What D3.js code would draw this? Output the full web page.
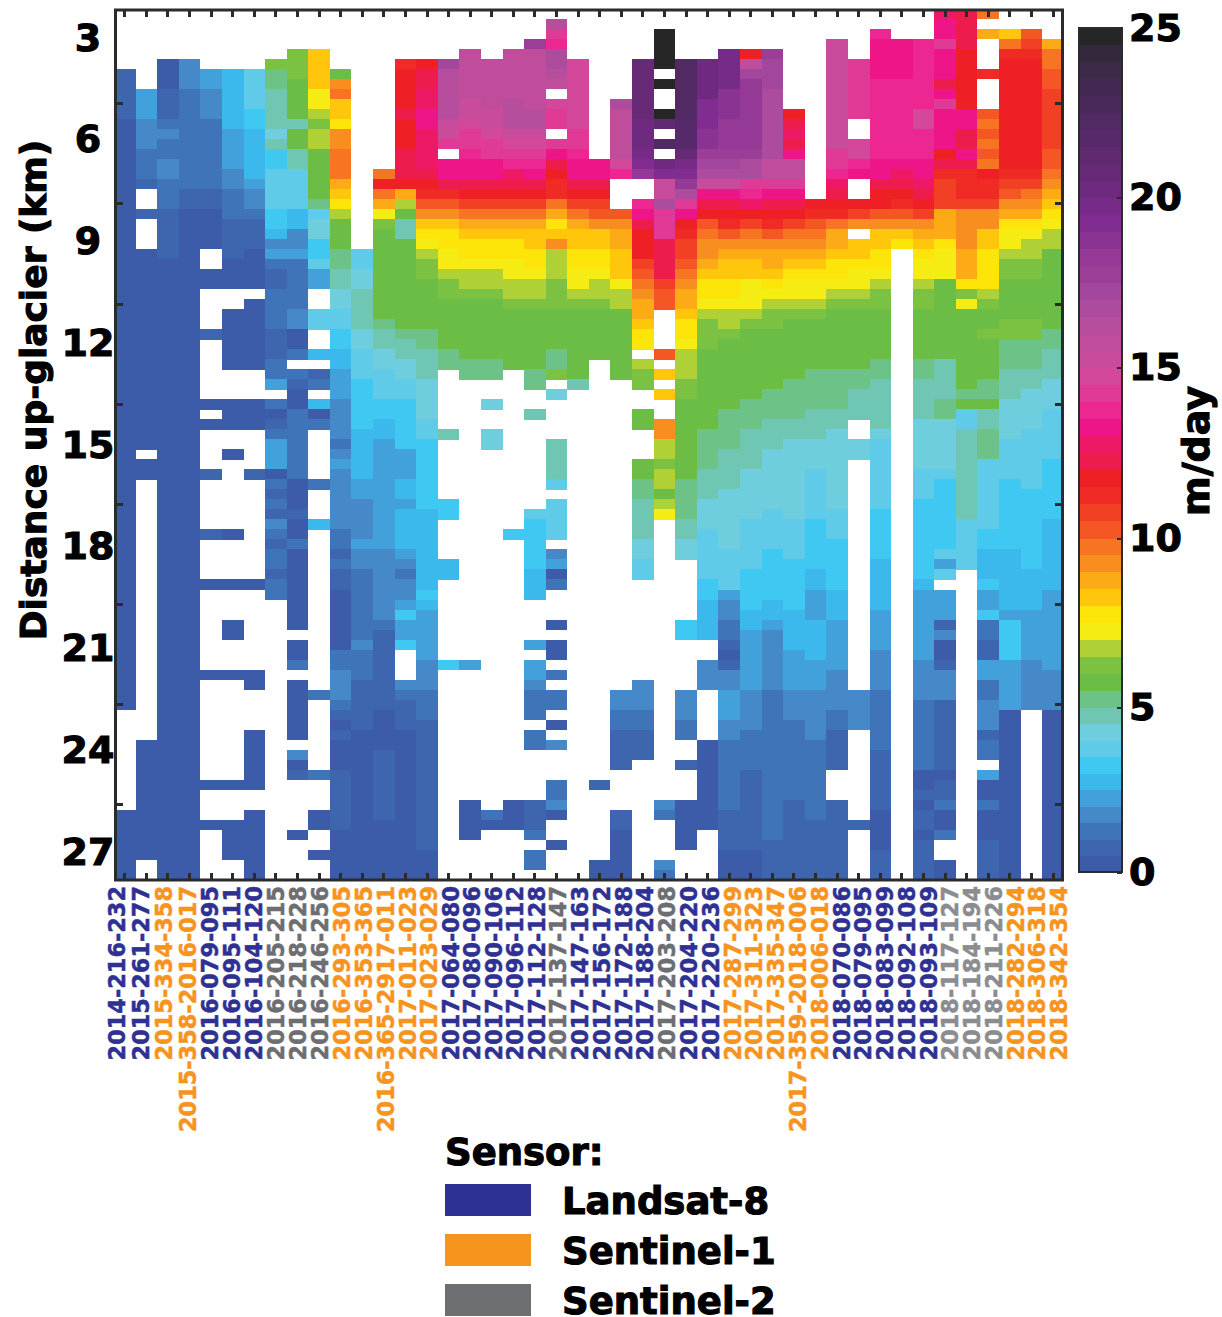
<!DOCTYPE html>
<html lang="en">
<head>
<meta charset="utf-8">
<title>Glacier velocity by sensor pair</title>
<script src="https://cdn.jsdelivr.net/npm/d3@7/dist/d3.min.js"></script>
<style>
    html, body { margin: 0; padding: 0; background: #fff; }
    svg { display: block; }
    text { font-family: "DejaVu Sans", sans-serif; font-weight: bold; fill: #000; }
    .heavy { stroke: #000; stroke-width: 1.1px; }
    .cell, .band { shape-rendering: crispEdges; }
    .ticks path { display: none; }
    .ticks line { stroke: #2b2b2b; stroke-width: 3px; shape-rendering: crispEdges; }
    .big path, .big line { display: none; }
</style>
</head>
<body>
<script>
var _ = null;

var pairLabels = [
    "2014-216-232", "2015-261-277", "2015-334-358", "2015-358-2016-017", "2016-079-095",
    "2016-095-111", "2016-104-120", "2016-205-215", "2016-218-228", "2016-246-256",
    "2016-293-305", "2016-353-365", "2016-365-2917-011", "2017-011-023", "2017-023-029",
    "2017-064-080", "2017-080-096", "2017-090-106", "2017-096-112", "2017-112-128",
    "2017-137-147", "2017-147-163", "2017-156-172", "2017-172-188", "2017-188-204",
    "2017-203-208", "2017-204-220", "2017-220-236", "2017-287-299", "2017-311-323",
    "2017-335-347", "2017-359-2018-006", "2018-006-018", "2018-070-086", "2018-079-095",
    "2018-083-099", "2018-092-108", "2018-093-109", "2018-117-127", "2018-184-194",
    "2018-211-226", "2018-282-294", "2018-306-318", "2018-342-354"
];
var pairSensors = [
    "L8", "L8", "S1", "S1", "L8", "L8", "L8", "S2", "S2", "S2", "S1", "S1", "S1", "S1", "S1",
    "L8", "L8", "L8", "L8", "L8", "S2", "L8", "L8", "L8", "L8", "S2", "L8", "L8", "S1", "S1",
    "S1", "S1", "S1", "L8", "L8", "L8", "L8", "L8", "S2b", "S2b", "S2b", "S1", "S1", "S1"
];
var sensorKeys = ["L8", "S1", "S2", "S2b"];
var sensorColors = ["#2e3192", "#f7941e", "#6d6e71", "#8a8c8f"];
var legendNames = ["Landsat-8", "Sentinel-1", "Sentinel-2"];
var legendKeys = ["L8", "S1", "S2"];

var kmTicks = [3, 6, 9, 12, 15, 18, 21, 24, 27];
var barTicks = [0, 5, 10, 15, 20, 25];
var rowCount = 87;
var rowTicks = [9, 19, 29, 39, 49, 59, 69, 79];

// one colour per half m/day
var bandColors = [
    "#3c5ca9", "#3d66ae", "#3f74b9", "#4589c8", "#42a1db", "#3cb9ec", "#3ec8f2", "#5fcbe8", "#6fcede", "#6fc7b3",
    "#6cc287", "#6bbd45", "#7cc242", "#afd136", "#f5ec14", "#fde50a", "#ffc60c", "#fcab17", "#f88e1f", "#f77423",
    "#f45624", "#f14024", "#f02a25", "#ef1f26", "#ee1c4d", "#ee1867", "#ee1589", "#ed2791", "#e03a96", "#d3489a",
    "#c94b9b", "#c04d9c", "#b64d9d", "#ad4c9e", "#a2479d", "#9a3e98", "#943a96", "#8a3393", "#802c90", "#752b87",
    "#6d2a7e", "#662a77", "#5f2a70", "#58296a", "#512963", "#4a295a", "#432952", "#3d2948", "#34293c", "#262626"
];

// m/day down each column, written as value, run length, value, run length...
var columnRuns = [
    [_,6, .5,5, 0,59, _,10, 0,7],
    [_,8, 2,3, 1.5,3, 1,3, .5,1, _,2, .5,1, _,3, 0,20, _,1, 0,2, _,26, 0,12, _,2],
    [_,5, 0,3, .5,3, 1,1, 1.5,1, 1,2, 1.5,2, 1,3, .5,5, 0,62],
    [_,5, 1.5,3, 1,10, .5,2, 0,67],
    [_,6, 2,2, 1.5,3, 1,7, .5,2, 0,4, _,2, 0,2, _,4, .5,1, _,6, 0,1, _,1, 0,1, _,4, .5,1, _,5, .5,1, _,4, 0,1, _,8, 0,1, _,10, 0,1, _,3, 0,1, _,5],
    [_,6, 2.5,6, 2,4, 1.5,2, 1,3, .5,4, 0,3, _,2, 0,6, _,3, 0,3, _,2, 0,1, _,7, 0,1, _,4, 0,1, _,3, 0,2, _,3, 0,1, _,10, 0,1, _,3, 0,4, _,2],
    [_,6, 3.5,4, 3,2, 2.5,5, 2,1, 1.5,2, 1,1, .5,3, 0,4, _,1, 0,7, _,3, 0,3, _,4, .5,1, _,10, 0,1, _,8, 0,2, _,4, 0,6, _,2, 0,7],
    [_,5, 6,1, 5,2, 4.5,4, 4,1, 4.5,1, 3,2, 3.5,4, 3,2, 2.5,1, 1.5,1, 2,1, 1,1, .5,2, 1,4, .5,3, 1,2, 2,1, _,1, 1,1, 0,1, .5,1, 1,1, 2,3, 0,1, 1,1, .5,1, 1,1, .5,1, 1.5,1, 1,1, .5,1, 1,2, .5,1, 1,2, _,28],
    [_,4, 6,3, 5.5,4, 4.5,1, 5.5,2, 4.5,2, 3.5,4, 2.5,2, 1.5,2, 2,1, 1,3, 1,2, 1.5,2, 0,2, 1,1, _,1, 1,1, .5,1, 0,2, 1,7, 0,3, .5,1, 0,2, 1,1, 0,8, _,1, 0,2, 1,1, _,1, 0,6, _,1, 1.5,1, 0,1, .5,1, _,5, 0,1, _,4],
    [_,4, 8,4, 7,2, 6.5,1, 6,1, 6.5,2, 5.5,5, 5,1, 3.5,1, 4,2, 3,2, 3.5,1, 2,2, _,2, 3.5,2, _,2, 2.5,1, _,1, .5,1, 1,1, _,1, 2.5,1, 0,1, 1,1, _,5, 1,1, _,3, 2.5,1, _,16, 1,1, _,7, 1,1, _,3, 0,2, _,2, 0,1, _,2],
    [_,6, 5.5,1, 9,1, 9.5,1, 8,2, 7.5,1, 9,2, 9.5,3, 8.5,1, 8,1, 7.5,1, 6.5,1, 5.5,3, 5,2, 4.5,2, 4,2, 3.5,2, 3,2, 2.5,2, 2,3, 1.5,4, 1,1, 1.5,1, 2,1, 1.5,6, 1,2, .5,1, 1,1, .5,2, 0,6, 1,2, 1.5,3, 1,1, .5,1, 0,1, .5,1, 0,3, .5,6, 0,5],
    [_,24, 3.5,2, 4,2, 4.5,4, 4,2, 3.5,3, 3,5, 2.5,5, 2,2, 1.5,4, 2,1, 1.5,2, 1,7, 1.5,1, 1,3, .5,5, 0,15],
    [_,16, 9.5,1, 11.5,1, 9.5,1, 8.5,1, 7,1, 6,1, 5.5,9, 5,1, 4.5,2, 4,2, 3.5,3, 3,2, 2.5,2, 2,11, 1.5,7, 1,1, .5,8, 0,4, .5,7, 0,6],
    [_,5, 11,1, 11.5,4, 12,1, 11.5,3, 12,3, 11.5,1, 8.5,1, 6.5,1, 5.5,1, 4.5,2, 5.5,9, 5,1, 4.5,2, 4,2, 3.5,2, 3,5, 2,3, 2.5,2, 2,1, 2.5,4, 2,1, 1.5,1, 1,1, 1.5,1, 1.5,1, 2,1, 3,1, 2,2, 3,1, _,3, 1.5,1, 1,1, .5,3, 0,15],
    [_,5, 11.5,1, 12,2, 12.5,2, 13,2, 12.5,4, 12,1, 11.5,1, 11,1, 10,1, 9,1, 8,1, 7.5,1, 7,1, 6.5,1, 6,2, 5.5,5, 5,2, 4.5,3, 4,4, 3.5,2, 3,7, 2.5,8, 3,1, 2.5,1, 2,5, 1.5,3, 1,3, .5,13, 0,3],
    [_,5, 17,1, 16,5, 15,2, 14,1, _,1, 13,2, 12,1, 11,1, 10,1, 9,1, 8,1, 7.5,2, 7,2, 6.5,1, 6,2, 5.5,5, 5,2, _,6, 4.5,1, _,6, 3,2, _,4, 2.5,2, _,8, 3,1, _,21],
    [_,4, 15.5,5, 15,2, 14.5,1, 14,2, 13.5,1, 13,2, 12,1, 11.5,1, 10.5,1, 9.5,1, 8.5,1, 8,1, 7.5,2, 7,1, 6.5,2, 6,1, 5.5,6, 5,2, _,28, 2,1, _,13, 0,4, _,4],
    [_,5, 15.5,5, 15,2, 14.5,1, 14,2, 13,2, 12,1, 11.5,1, 10.5,1, 9.5,1, 8.5,1, 8,1, 7.5,2, 7,1, 6.5,2, 6,1, 5.5,6, 5,2, _,2, 4,1, _,2, 4,2, _,36, 1,1, 0,1, _,5],
    [_,4, 15.5,5, 16,3, 15,1, 14.5,1, 14,1, 13.5,1, 12.5,1, 12,1, 11.5,1, 10.5,1, 9.5,1, 8.5,1, 8,1, 7.5,2, 7,2, 6.5,2, 6,1, 5.5,6, _,16, 3,1, _,26, 0,3, _,5],
    [_,3, 17.5,1, 15.5,6, 16,2, 15,1, 14.5,1, 14,1, 13.5,1, 13,1, 12,1, 11.5,1, 10.5,1, 9.5,1, 8.5,1, 8,2, 7.5,2, 7,1, 6.5,2, 6,1, 5.5,6, 5,2, _,2, 4.5,1, _,9, 3.5,1, 3,5, 2.5,3, _,4, 2,1, _,1, 2,2, 1.5,1, 1,3, _,1, 1,2, _,5, .5,3, 1,1, _,1, 1,2, _,1],
    [_,1, 16,1, 14,1, 13.5,1, 16.5,2, 16,1, 15.5,1, _,1, 14.5,1, 14,2, _,1, 14,1, 13,1, 12,1, 11.5,1, 11,2, 9.5,1, 8.5,1, 7.5,1, 8,1, 9,1, 6.5,3, 6,3, 5.5,4, 5,2, 6,1, _,1, 4,1, _,4, 4.5,4, 3.5,1, _,1, 3.5,4, _,1, 1.5,1, 2,1, 0,1, 1,1, _,3, 0,1, _,1, 0,2, _,1, 1,1, _,1, 1,2, _,1, 0,1, _,1, 1.5,1, _,3, 1,2, 1.5,1, 0,1, _,2, 0,1, _,3],
    [_,5, 14.5,7, 14,2, 13.5,1, 13,2, 12,1, 11.5,1, 10.5,1, 9.5,1, 8.5,1, 8,2, 7.5,2, 7,2, 6.5,1, 6,1, 5.5,7, 4.5,1, _,49],
    [_,15, 13,2, 12,1, 11.5,1, 10.5,1, 10,1, 9,1, 8,2, 7.5,2, 7,1, 6.5,2, 6,1, 5.5,5, _,42, .5,1, _,7, 0,2],
    [_,9, 16.5,1, 15.5,5, 14.5,1, 13.5,1, _,3, 10,1, 9,1, 8.5,2, 8,3, 7,1, 6.5,2, 5.5,7, _,31, 1.5,2, 1,2, .5,4, _,4, .5,2, 0,5],
    [_,5, 20.5,6, 20,3, 19.5,1, 19,1, 18,1, _,2, 13.5,1, 13,1, 12,1, 11.5,3, 10.5,1, 10,1, 9.5,1, 9,1, 8.5,2, 8,1, 7.5,2, _,1, 6.5,1, 6,2, _,2, 5.5,2, _,3, 5.5,2, 5,2, 4.5,4, 4,2, 3.5,2, _,10, 1.5,3, 1,2, .5,3, _,12],
    [_,2, 24.5,4, _,1, 24.5,1, _,2, 24.5,1, 21,1, _,1, 22,1, _,1, 20,1, 19,1, 15,2, 16.5,1, 14,3, 12,4, 10.5,1, 10,2, _,4, 10,1, _,1, 8,1, _,1, 8,1, _,2, 9,2, 6.5,2, 6,1, 6.5,2, 5.5,1, 6.5,1, 7,1, _,28, 1.5,1, 1,1, _,4, 1.5,1, 1,1],
    [_,5, 22,6, 21.5,3, 20.5,1, 19.5,1, 19,1, 18,1, 16.5,1, 14,1, 13,1, 11.5,1, 11,1, 10.5,2, 10,1, 9.5,1, 9,1, 8.5,2, 8,1, 7.5,2, 7,1, 6.5,3, 6,2, 5.5,8, 5,4, 4.5,2, 4,2, _,6, 3,2, _,5, 1.5,3, 1,2, _,2, .5,1, _,3, 0,5, _,3],
    [_,5, 20,4, 19,3, 18.5,2, 17.5,1, 17,1, 16.5,1, 15,1, 13,1, 12,1, 11.5,1, 10,1, 9.5,1, 9,2, 8.5,1, 8,1, 7.5,2, 7,1, 6.5,1, 6,3, 5.5,8, 5,4, 4.5,3, 4,3, 3.5,5, 3,2, 2.5,4, _,2, 1.5,3, _,5, 0,9, _,5],
    [_,4, 19.5,4, 18.5,3, 18,3, 17.5,1, 17,1, 16.5,1, 15,1, 13,1, 12,1, 11.5,1, 11,1, 10,1, 9,1, 8.5,1, 8,2, 7.5,2, 7,1, 6.5,2, 6,1, 5.5,7, 5,4, 4.5,4, 4,6, 3.5,4, 2,1, 1.5,2, 1,2, .5,1, 0,1, .5,1, 1.5,2, 2,3, 1.5,2, 1,7, .5,4, 0,3],
    [_,4, 11.5,1, 15.5,1, 17,1, 18,7, 17.5,1, 16.5,2, 14,1, 13.5,1, 12.5,1, 11.5,1, 10.5,1, 9.5,1, 9,1, 8.5,1, 8,2, 7,3, 6.5,1, 6,1, 5.5,7, 5,3, 4.5,4, 4,5, 3.5,5, 3,4, 2.5,2, 2,6, 1.5,4, 1,4, .5,8, 0,3],
    [_,4, 17.5,1, 17,3, 16.5,7, 15.5,2, 14,1, 13,1, 12,1, 11.5,1, 11,1, 10,1, 9,1, 8.5,2, 8,1, 7.5,1, 7,1, 6.5,1, 6,2, 5.5,6, 5,3, 4.5,3, 4,6, 3.5,4, 3,5, 2.5,2, 2,1, 1.5,6, 1,15, .5,4],
    [_,10, 11.5,1, 12,1, 12.5,1, 12,1, 13,1, 15.5,2, 14,1, 13,1, 12,1, 11.5,1, 10.5,1, 9.5,1, 9,1, 8.5,1, 8,1, 7.5,1, 7,2, 6.5,1, 6,1, 5.5,6, 5,4, 4.5,2, 4,8, 3.5,4, 3,5, 2.5,4, 2,4, 1.5,3, 1,8, .5,8],
    [_,19, 11.5,1, 11,1, 10,1, 9.5,1, 9,1, 8.5,1, 8,1, 7.5,1, 7,2, 6.5,1, 6,1, 5.5,5, 5,4, 4.5,3, 4,3, 3.5,5, 3,5, 2.5,2, 2,3, 2.5,4, 2,3, 1.5,5, 1,8, .5,6],
    [_,3, 15,11, 14,2, 13.5,1, 12.5,1, 12,1, 11.5,1, 11,1, 9.5,1, 8.5,2, 8,1, 7.5,2, 7,1, 6.5,1, 6,1, 5.5,6, 5,4, 4.5,2, 4,8, 3.5,3, 3,5, 2.5,3, 2,5, 1.5,4, 1,2, .5,4, _,3, .5,8],
    [_,5, 14,6, _,2, 14.5,2, 13.5,1, 13,1, _,2, 11.5,1, 10.5,1, 9,1, _,1, 8,2, 7.5,1, 7,2, 6.5,1, 6,1, 5.5,6, 5,2, 4.5,3, _,2, 4,2, _,23, 1.5,4, _,9, .5,1, _,5],
    [_,2, 13.5,1, 13,4, 13.5,8, 13,2, 12,1, 11.5,2, 10,1, 9,1, 8,2, 7.5,2, 7,1, 6.5,1, 6,2, 5.5,5, 5,2, 4.5,5, 4,1, 3.5,7, 3,5, 2.5,5, 2,4, 1.5,4, 1,6, .5,6, 0,4, .5,3],
    [_,3, 13,4, 13.5,8, 13,1, 12.5,1, 12,1, 11.5,1, 11,1, 10,1, 9,1, 8,1, 7.5,1, _,63],
    [_,3, 13.5,7, 14.5,2, 13.5,3, 13,2, 12.5,1, 12,1, 11.5,1, 10.5,1, 9,1, 8.5,1, 8,1, 7.5,1, 7,2, 6.5,1, 6,2, 5.5,5, 5,2, 4.5,4, 4,5, 3.5,3, 3,8, 2.5,1, 2,7, 1.5,4, 1,7, 0,2, .5,1, 0,1, .5,2, 0,1, .5,4],
    [12.5,1, 13,2, 14,1, 13,3, 12,1, 13,1, 14,1, 13,4, 11.5,1, 12,1, 11,1, 10.5,3, 8.5,3, 7.5,1, 7,3, 5.5,8, 4.5,4, 5,2, 4,5, 3.5,1, 3,7, 3.5,1, 2,1, 3.5,1, _,1, 2,3, .5,1, 1.5,1, 0,2, .5,1, 1.5,3, .5,7, 0,1, .5,2, 1,1, 0,2, 1,1, _,2, 0,2],
    [12,4, 11.5,6, 13,2, 12,2, 13,1, 12,1, 11,3, 10.5,1, 9,4, 8.5,3, 7.5,1, 6,1, 7,1, 5.5,8, 5,1, 5.5,1, 3.5,2, 4.5,9, 3.5,5, _,31],
    [9.5,1, _,1, 8.5,1, _,3, 11,1, _,3, 10,1, 9.5,1, 10,1, 9.5,1, 10,1, 9.5,1, 11.5,1, 11,2, 10.5,1, 9,2, 8,2, 7.5,4, 6.5,1, 6,1, 5.5,2, 6,1, 5.5,4, 5,2, 5.5,1, 4.5,2, 5,3, 3.5,7, 3,2, 2.5,3, 3,1, 2,2, 3,1, 1,2, .5,2, 2,2, 1,2, 1.5,3, .5,1, 1,2, _,1, 2,1, 0,2, 1,1, 0,3, .5,4],
    [_,2, 8,1, 9.5,1, 11,1, 11.5,11, 11,1, 10.5,1, 10,1, 9,1, 8.5,1, 7.5,1, 7,2, 6.5,1, 6,2, 5.5,4, 6,2, 5,3, 4.5,3, 4,4, 3.5,4, 3,7, 2.5,6, 2,1, 3,4, 2,5, 0,17],
    [_,2, 10,1, 10.5,1, 11,1, 11.5,11, 11,1, 10.5,1, 9.5,1, 9,1, 8.5,1, 7.5,1, 7,1, 6.5,2, 6,2, 5.5,4, 6,2, 5,3, 4.5,2, 4,4, 3.5,6, 3,8, 2.5,4, 2,5, 1.5,5, _,17],
    [_,3, 8.5,1, 9.5,2, 10,2, 10.5,6, 10,2, 9.5,1, 9,1, 8.5,1, 8,1, 7.5,1, 7,1, 6.5,2, 5.5,8, 5,2, 4.5,3, 4,3, 3.5,5, 3,6, 2.5,7, 2,8, 1.5,4, 0,17]
];

// expand the runs into one record per cell
var cells = [];
columnRuns.forEach(function (runs, col) {
    var row = 0;
    for (var i = 0; i < runs.length; i += 2) {
        for (var n = 0; n < runs[i + 1]; n++) {
            if (runs[i] !== null) cells.push({col: col, row: row, value: runs[i]});
            row++;
        }
    }
    if (row !== rowCount) console.error("column " + col + " has " + row + " rows");
});

var svg = d3.select("body").append("svg")
    .attr("width", 1222)
    .attr("height", 1317);

var xScale = d3.scaleBand().domain(d3.range(pairLabels.length)).range([114, 1063.8]);
var rowScale = d3.scaleBand().domain(d3.range(rowCount)).range([8.5, 880]);
var kmScale = d3.scaleLinear().domain([3, 27]).range([38, 852]);
var color = d3.scaleQuantize().domain([0, 25]).range(bandColors);
// the labels were set by hand in the original, so they drift against the columns
var labelX = d3.scaleLinear().domain([0, 3, 12, 21, 31, 43]).range([117, 188, 386, 580, 798, 1059]);
var sensorColor = d3.scaleOrdinal().domain(sensorKeys).range(sensorColors);
var barScale = d3.scaleLinear().domain(barTicks).range([872, 707, 538, 367, 197, 28]);

svg.append("g").selectAll("rect")
    .data(cells)
    .enter().append("rect")
    .attr("class", "cell")
    .attr("x", function (d) { return xScale(d.col); })
    .attr("y", function (d) { return rowScale(d.row); })
    .attr("width", xScale.bandwidth())
    .attr("height", rowScale.bandwidth() + 0.5)
    .attr("fill", function (d) { return color(d.value); });

// white margin so the top row stops at the frame
svg.append("rect").attr("width", 1222).attr("height", 10).attr("fill", "#fff");

// small inward ticks on all four sides
svg.append("g").attr("class", "ticks").attr("transform", "translate(0,11)")
    .call(d3.axisTop(xScale).tickSize(-6).tickFormat(""));
svg.append("g").attr("class", "ticks").attr("transform", "translate(0,879)")
    .call(d3.axisBottom(xScale).tickSize(-6).tickFormat(""));
svg.append("g").attr("class", "ticks").attr("transform", "translate(116,0)")
    .call(d3.axisLeft(rowScale).tickValues(rowTicks).tickSize(-7).tickFormat(""));
svg.append("g").attr("class", "ticks").attr("transform", "translate(1062,0)")
    .call(d3.axisRight(rowScale).tickValues(rowTicks).tickSize(-7).tickFormat(""));

svg.append("rect")
    .attr("x", 115.5).attr("y", 10)
    .attr("width", 947).attr("height", 870)
    .attr("fill", "none")
    .attr("stroke", "#2b2b2b")
    .attr("stroke-width", 3);

var kmAxis = svg.append("g").attr("class", "big").attr("transform", "translate(88,0)")
    .call(d3.axisLeft(kmScale).tickValues(kmTicks).tickSize(0).tickPadding(0));
kmAxis.selectAll("text")
    .attr("class", "heavy")
    .attr("x", 0)
    .style("text-anchor", "middle")
    .style("font-family", '"DejaVu Sans", sans-serif')
    .style("font-size", "38px")
    .style("font-weight", "bold");

svg.append("text")
    .attr("class", "heavy")
    .attr("transform", "translate(33,390) rotate(-90)")
    .attr("text-anchor", "middle")
    .attr("dominant-baseline", "central")
    .style("font-size", "36px")
    .text("Distance up-glacier (km)");

// date pair labels, read bottom to top
svg.append("g").selectAll("text")
    .data(pairLabels)
    .enter().append("text")
    .attr("transform", function (d, i) { return "translate(" + labelX(i) + ",886) rotate(-90)"; })
    .attr("text-anchor", "end")
    .attr("dominant-baseline", "central")
    .style("font-size", "22.4px")
    .style("fill", function (d, i) { return sensorColor(pairSensors[i]); })
    .style("stroke", function (d, i) { return sensorColor(pairSensors[i]); })
    .style("stroke-width", "0.5px")
    .text(function (d) { return d; });

// colour bar
svg.append("g").selectAll("rect")
    .data(bandColors)
    .enter().append("rect")
    .attr("class", "band")
    .attr("x", 1079)
    .attr("width", 43)
    .attr("y", function (d, i) { return barScale((i + 1) / 2); })
    .attr("height", function (d, i) { return barScale(i / 2) - barScale((i + 1) / 2) + 0.5; })
    .attr("fill", function (d) { return d; });

svg.append("rect")
    .attr("x", 1079).attr("y", barScale(25))
    .attr("width", 43).attr("height", barScale(0) - barScale(25))
    .attr("fill", "none")
    .attr("stroke", "#2b2b2b")
    .attr("stroke-width", 2);

svg.append("g").attr("class", "ticks").attr("transform", "translate(1122,0)")
    .call(d3.axisRight(barScale).tickValues(barTicks).tickSize(-5).tickFormat(""))
    .selectAll("line").style("stroke-width", "2px");

var barAxis = svg.append("g").attr("class", "big").attr("transform", "translate(1129,0)")
    .call(d3.axisRight(barScale).tickValues(barTicks).tickSize(0).tickPadding(0));
barAxis.selectAll("text")
    .attr("class", "heavy")
    .style("font-family", '"DejaVu Sans", sans-serif')
    .style("font-size", "38px")
    .style("font-weight", "bold");

svg.append("text")
    .attr("class", "heavy")
    .attr("transform", "translate(1196,451) rotate(-90)")
    .attr("text-anchor", "middle")
    .attr("dominant-baseline", "central")
    .style("font-size", "38px")
    .text("m/day");

// legend
svg.append("text")
    .attr("class", "heavy")
    .attr("x", 445).attr("y", 1165)
    .style("font-size", "37px")
    .text("Sensor:");

var legendY = d3.scaleBand().domain(legendNames).range([1184, 1334]);
svg.append("g").selectAll("rect")
    .data(legendNames)
    .enter().append("rect")
    .attr("x", 445)
    .attr("width", 86)
    .attr("y", function (d) { return legendY(d); })
    .attr("height", 32)
    .attr("fill", function (d, i) { return sensorColor(legendKeys[i]); });

svg.append("g").selectAll("text")
    .data(legendNames)
    .enter().append("text")
    .attr("class", "heavy")
    .attr("x", 562)
    .attr("y", function (d) { return legendY(d) + 17; })
    .attr("dominant-baseline", "central")
    .style("font-size", "37px")
    .text(function (d) { return d; });
</script>
</body>
</html>
